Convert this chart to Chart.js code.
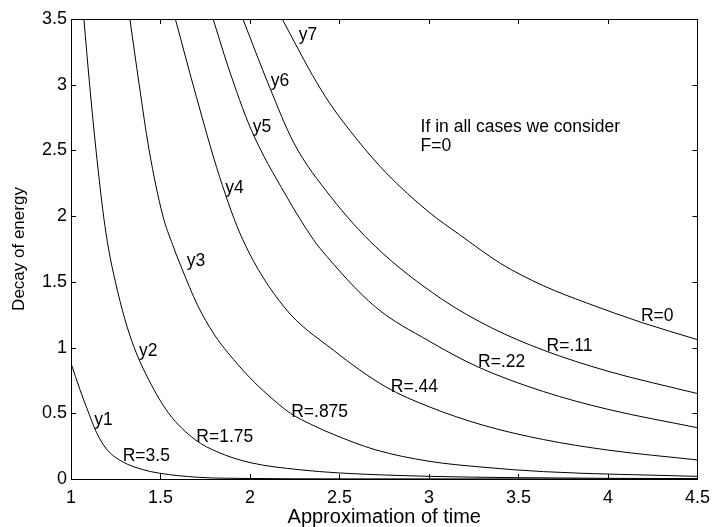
<!DOCTYPE html>
<html>
<head>
<meta charset="utf-8">
<script src="https://cdn.jsdelivr.net/npm/chart.js@4"></script>
<style>
  html, body { margin: 0; padding: 0; background: #fff; }
  #wrap { width: 718px; height: 527px; position: relative; }
</style>
</head>
<body>
<div id="wrap"><canvas id="decay"></canvas></div>
<script>
// values (time, energy)
const t1 = [1.0, 1.05, 1.105, 1.142, 1.2, 1.29, 1.4, 1.49, 1.71, 2.0, 2.5, 4.5];
const e1 = [0.88, 0.68, 0.48, 0.355, 0.225, 0.13, 0.072, 0.045, 0.013, 0.004, 0.001, 0];

const t2 = [1.072, 1.104, 1.14, 1.182, 1.21, 1.248, 1.3, 1.353, 1.436, 1.546, 1.693, 1.82, 2.0, 2.28, 2.5, 2.76, 3.0, 3.5, 4.0, 4.5];
const e2 = [3.5, 3.0, 2.5, 2.0, 1.75, 1.5, 1.22, 1.0, 0.75, 0.5, 0.3, 0.205, 0.125, 0.07, 0.046, 0.03, 0.02, 0.01, 0.005, 0.003];

const t3 = [1.329, 1.381, 1.436, 1.513, 1.568, 1.62, 1.706, 1.80, 1.877, 2.0, 2.1, 2.226, 2.35, 2.465, 2.704, 3.0, 3.3, 3.64, 4.5];
const e3 = [3.5, 3.0, 2.506, 2.003, 1.782, 1.60, 1.325, 1.10, 0.96, 0.77, 0.64, 0.5, 0.41, 0.34, 0.221, 0.135, 0.09, 0.056, 0.02];

const t4 = [1.583, 1.70, 1.83, 1.96, 2.19, 2.466, 2.76, 3.0, 3.3, 3.64, 4.0, 4.5];
const e4 = [3.5, 2.91, 2.30, 1.82, 1.31, 0.98, 0.70, 0.55, 0.41, 0.30, 0.22, 0.145];

const t5 = [1.794, 1.877, 2.006, 2.2, 2.355, 2.39, 2.7, 3.0, 3.27, 3.64, 4.0, 4.5];
const e5 = [3.5, 3.14, 2.66, 2.16, 1.82, 1.757, 1.31, 1.05, 0.855, 0.665, 0.53, 0.39];

const t6 = [1.96, 2.107, 2.245, 2.45, 2.7, 3.07, 3.35, 3.64, 4.0, 4.5];
const e6 = [3.5, 2.99, 2.557, 2.15, 1.77, 1.37, 1.15, 0.98, 0.82, 0.65];

const t7 = [2.18, 2.25, 2.35, 2.445, 2.6, 2.76, 3.0, 3.17, 3.4, 3.64, 3.88, 4.19, 4.5];
const e7 = [3.5, 3.32, 3.07, 2.86, 2.58, 2.33, 2.03, 1.86, 1.64, 1.47, 1.34, 1.19, 1.06];

const xTicks = [1, 1.5, 2, 2.5, 3, 3.5, 4, 4.5];
const yTicks = [0, 0.5, 1, 1.5, 2, 2.5, 3, 3.5];

// text placed on the plot, in data units
const curveNames = ['y1', 'y2', 'y3', 'y4', 'y5', 'y6', 'y7'];
const nameAt = [[1.13, 0.45], [1.38, 0.97], [1.647, 1.655], [1.862, 2.21], [2.015, 2.68], [2.116, 3.03], [2.272, 3.38]];
const rLabels = ['R=3.5', 'R=1.75', 'R=.875', 'R=.44', 'R=.22', 'R=.11', 'R=0'];
const rAt = [[1.289, 0.17], [1.70, 0.32], [2.23, 0.51], [2.787, 0.70], [3.274, 0.89], [3.657, 1.01], [4.184, 1.24]];
const note = ['If in all cases we consider', 'F=0'];
const noteAt = [[2.953, 2.68], [2.953, 2.53]];

const FONT = '"Liberation Sans", Arial, sans-serif';
Chart.defaults.font.family = FONT;
Chart.defaults.color = '#000';

function pts(xs, ys) {
  return xs.map((x, i) => ({ x: x, y: ys[i] }));
}

const series = [[t1, e1], [t2, e2], [t3, e3], [t4, e4], [t5, e5], [t6, e6], [t7, e7]];

// box with inward tick marks, like the matlab axes
const boxPlugin = {
  id: 'box',
  afterDraw(chart) {
    const ctx = chart.ctx;
    const a = chart.chartArea;
    const xs = chart.scales.x, ys = chart.scales.y;
    const len = 5;
    ctx.save();
    ctx.strokeStyle = '#000';
    ctx.lineWidth = 1;
    ctx.strokeRect(Math.round(a.left) + 0.5, Math.round(a.top) + 0.5,
      Math.round(a.right - a.left), Math.round(a.bottom - a.top));
    ctx.beginPath();
    xTicks.forEach(v => {
      const px = Math.round(xs.getPixelForValue(v)) + 0.5;
      ctx.moveTo(px, a.bottom); ctx.lineTo(px, a.bottom - len);
      ctx.moveTo(px, a.top); ctx.lineTo(px, a.top + len);
    });
    yTicks.forEach(v => {
      const py = Math.round(ys.getPixelForValue(v)) + 0.5;
      ctx.moveTo(a.left, py); ctx.lineTo(a.left + len, py);
      ctx.moveTo(a.right, py); ctx.lineTo(a.right - len, py);
    });
    ctx.stroke();

    ctx.fillStyle = '#000';
    ctx.font = '17.5px ' + FONT;
    ctx.textAlign = 'left';
    ctx.textBaseline = 'middle';
    const put = (txt, at) => ctx.fillText(txt, xs.getPixelForValue(at[0]), ys.getPixelForValue(at[1]));
    curveNames.forEach((s, i) => put(s, nameAt[i]));
    rLabels.forEach((s, i) => put(s, rAt[i]));
    note.forEach((s, i) => put(s, noteAt[i]));
    ctx.restore();
  }
};

new Chart(document.getElementById('decay'), {
  type: 'scatter',
  data: {
    datasets: series.map((s, i) => ({
      label: curveNames[i],
      data: pts(s[0], s[1]),
      showLine: true,
      borderColor: '#000',
      borderWidth: 1,
      pointRadius: 0,
      cubicInterpolationMode: 'monotone'
    }))
  },
  options: {
    responsive: true,
    maintainAspectRatio: false,
    animation: false,
    layout: { padding: { top: 19, right: 13, bottom: 0, left: 0 } },
    plugins: {
      legend: { display: false },
      tooltip: { enabled: false }
    },
    scales: {
      x: {
        type: 'linear',
        min: 1,
        max: 4.5,
        afterBuildTicks: s => { s.ticks = xTicks.map(v => ({ value: v })); },
        afterFit: s => { s.height = 48; },
        grid: { display: false, drawTicks: false },
        border: { display: false },
        ticks: {
          font: { size: 18 },
          padding: 8,
          maxRotation: 0,
          callback: v => String(v)
        },
        title: {
          display: true,
          text: 'Approximation of time',
          font: { size: 20, lineHeight: 1 },
          padding: { top: 0, bottom: 0 }
        }
      },
      y: {
        type: 'linear',
        min: 0,
        max: 3.5,
        afterBuildTicks: s => { s.ticks = yTicks.map(v => ({ value: v })); },
        afterFit: s => { s.width = 71; },
        grid: { display: false, drawTicks: false },
        border: { display: false },
        ticks: {
          font: { size: 18 },
          padding: 4,
          callback: v => String(v)
        },
        title: {
          display: true,
          text: 'Decay of energy',
          font: { size: 17, lineHeight: 1.2 },
          padding: { top: 9, bottom: 0 }
        }
      }
    }
  },
  plugins: [boxPlugin]
});
</script>
</body>
</html>
